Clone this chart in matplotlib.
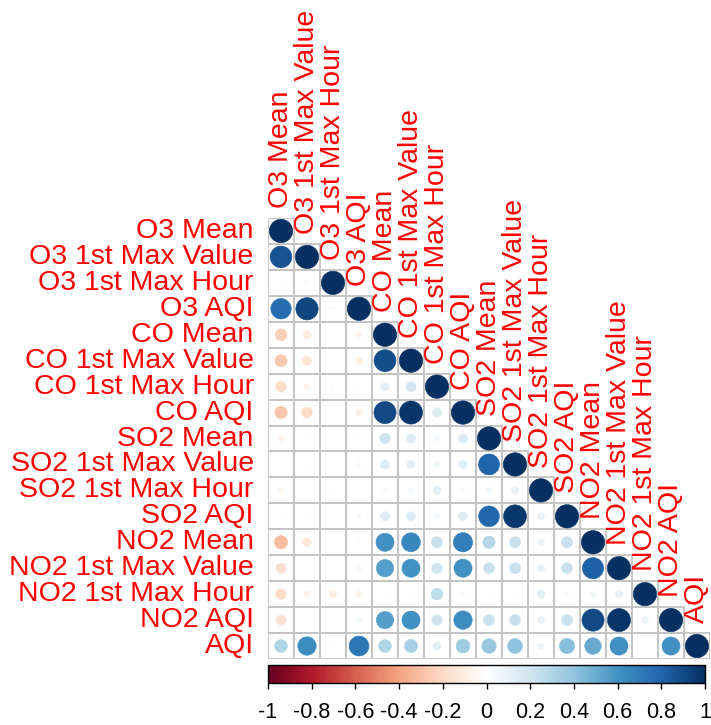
import numpy as np
import matplotlib
matplotlib.use("Agg")
import matplotlib.pyplot as plt
from matplotlib.colors import LinearSegmentedColormap, Normalize
from matplotlib.patches import Rectangle
from matplotlib.colorbar import ColorbarBase

plt.rcParams["font.family"] = ["Liberation Sans", "DejaVu Sans"]

# -------------------------
# Data (lower triangle)
# -------------------------
variables = [
    "O3 Mean", "O3 1st Max Value", "O3 1st Max Hour", "O3 AQI",
    "CO Mean", "CO 1st Max Value", "CO 1st Max Hour", "CO AQI",
    "SO2 Mean", "SO2 1st Max Value", "SO2 1st Max Hour", "SO2 AQI",
    "NO2 Mean", "NO2 1st Max Value", "NO2 1st Max Hour", "NO2 AQI",
    "AQI",
]

corr_rows = [
    [1],
    [0.86, 1],
    [0.02, 0.04, 1],
    [0.76, 0.91, 0.03, 1],
    [-0.25, -0.12, 0.0, -0.07, 1],
    [-0.27, -0.15, 0.01, -0.09, 0.88, 1],
    [-0.2, -0.07, 0.02, 0.02, 0.13, 0.18, 1],
    [-0.28, -0.2, 0.01, -0.08, 0.9, 0.97, 0.15, 1],
    [-0.07, 0.02, 0.01, 0.02, 0.2, 0.15, 0.05, 0.15, 1],
    [0.02, 0.02, 0.0, 0.04, 0.15, 0.12, 0.06, 0.13, 0.8, 1],
    [-0.06, 0.0, 0.02, 0.0, 0.03, 0.05, 0.12, 0.04, 0.07, 0.1, 1],
    [0.02, 0.02, 0.01, 0.04, 0.15, 0.15, 0.05, 0.14, 0.78, 0.96, 0.1, 1],
    [-0.32, -0.13, 0.0, 0.02, 0.6, 0.65, 0.22, 0.68, 0.28, 0.22, 0.08, 0.22, 1],
    [-0.18, 0.01, 0.01, 0.05, 0.55, 0.6, 0.2, 0.6, 0.22, 0.22, 0.1, 0.22, 0.82, 1],
    [-0.2, -0.08, -0.1, -0.08, 0.02, 0.02, 0.25, 0.03, 0.02, 0.02, 0.12, 0.03, 0.06, 0.1, 1],
    [-0.17, 0.01, 0.01, 0.05, 0.55, 0.6, 0.2, 0.62, 0.22, 0.22, 0.1, 0.22, 0.9, 0.97, 0.08, 1],
    [0.3, 0.62, 0.02, 0.72, 0.3, 0.32, 0.12, 0.35, 0.38, 0.4, 0.07, 0.42, 0.5, 0.6, 0.0, 0.6, 1],
]

cbar_ticks = [-1, -0.8, -0.6, -0.4, -0.2, 0, 0.2, 0.4, 0.6, 0.8, 1]
cbar_labels = ["-1", "-0.8", "-0.6", "-0.4", "-0.2", "0", "0.2", "0.4", "0.6", "0.8", "1"]

# corrplot's RdBu palette
palette = ["#67001F", "#B2182B", "#D6604D", "#F4A582", "#FDDBC7", "#FFFFFF",
           "#D1E5F0", "#92C5DE", "#4393C3", "#2166AC", "#053061"]
cmap = LinearSegmentedColormap.from_list("corr_rdbu", palette, N=200)
norm = Normalize(-1, 1)

n = len(variables)

# -------------------------
# Layout (pixel based)
# -------------------------
W, H = 711, 725
fig = plt.figure(figsize=(W / 100, H / 100), dpi=100)
fig.patch.set_facecolor("white")

grid_left, grid_top, grid_w, grid_h = 268, 218, 442, 441
ax = fig.add_axes([grid_left / W, 1 - (grid_top + grid_h) / H, grid_w / W, grid_h / H])
ax.set_xlim(-0.5, n - 0.5)
ax.set_ylim(n - 0.5, -0.5)
ax.axis("off")

# cell size in points, for marker sizes
cell_pt = grid_w / n * 72 / 100

# grid
for i in range(n):
    for j in range(i + 1):
        ax.add_patch(Rectangle((j - 0.5, i - 0.5), 1, 1, fill=False,
                               edgecolor="#C4C4C4", linewidth=1.3, zorder=1))

# circles
xs, ys, vals = [], [], []
for i, row in enumerate(corr_rows):
    for j, v in enumerate(row):
        xs.append(j)
        ys.append(i)
        vals.append(v)
vals = np.array(vals)
diam = 0.9 * cell_pt * np.sqrt(np.abs(vals))
cols = cmap(norm(vals))
ax.scatter(xs, ys, s=diam ** 2, c=cols, edgecolors=cols, linewidths=0.4, zorder=2)

# labels
label_size = 20.5
for i, name in enumerate(variables):
    ax.text(-0.5 - 0.55, i, name, ha="right", va="center",
            color="red", fontsize=label_size)
    ax.text(i, i - 0.5 - 0.38, name, ha="center", va="bottom", rotation=90,
            color="red", fontsize=label_size)

# -------------------------
# Colour bar
# -------------------------
cax = fig.add_axes([268 / W, 1 - 683 / H, 437 / W, 18 / H])
cb = ColorbarBase(cax, cmap=cmap, norm=norm, orientation="horizontal", ticks=cbar_ticks)
cb.set_ticklabels(cbar_labels)
cb.outline.set_linewidth(1.0)
cb.outline.set_edgecolor("black")
cax.tick_params(axis="x", length=4, width=1, pad=10, labelsize=15.5, direction="out")

fig.savefig("out.png", dpi=100, facecolor="white")
